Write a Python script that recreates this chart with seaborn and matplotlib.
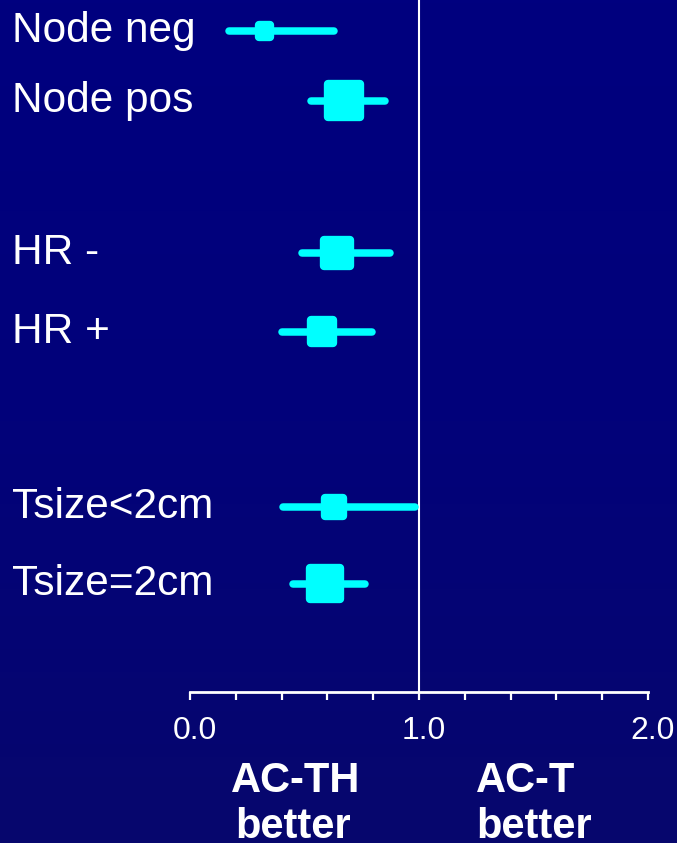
import numpy as np
import pandas as pd
import matplotlib
matplotlib.use("Agg")
import matplotlib.pyplot as plt
import matplotlib.transforms as mtransforms
from matplotlib.colors import LinearSegmentedColormap
import seaborn as sns

# Subgroup hazard ratios (AC-TH vs AC-T) with 95% confidence limits
subgroups = ["Node neg", "Node pos", "HR -", "HR +", "Tsize<2cm", "Tsize=2cm"]
hazard_ratio = [0.326, 0.673, 0.643, 0.577, 0.628, 0.590]
ci_low = [0.172, 0.528, 0.488, 0.402, 0.406, 0.451]
ci_high = [0.629, 0.850, 0.875, 0.796, 0.983, 0.763]
# relative weight of each subgroup, shown as box size
weight = [20, 41, 34, 31, 26, 39]

row_pos = [0.0, 1.0, 3.18, 4.30, 6.80, 7.90]
tick_values = [0.0, 0.2, 0.4, 0.6, 0.8, 1.0, 1.2, 1.4, 1.6, 1.8, 2.0]
tick_labels = ["0.0", "", "", "", "", "1.0", "", "", "", "", "2.0"]

df = pd.DataFrame({"subgroup": subgroups, "hr": hazard_ratio, "lo": ci_low,
                   "hi": ci_high, "w": weight, "row": row_pos})

sns.set_theme(style="white")
plt.rcParams["font.family"] = ["Liberation Sans", "DejaVu Sans"]

W, H, DPI = 677, 843, 100
fig = plt.figure(figsize=(W / DPI, H / DPI), dpi=DPI)
fig.patch.set_facecolor("#000080")

# navy background with a soft vertical shade
bg = fig.add_axes([0, 0, 1, 1], zorder=-10)
cmap = LinearSegmentedColormap.from_list("navy", ["#00007f", "#02027a", "#07076d"])
bg.imshow(np.linspace(0, 1, 256)[:, None], aspect="auto", cmap=cmap,
          extent=[0, 1, 0, 1], origin="upper")
bg.set_axis_off()

px_unit = 70.0
top_px, axis_px = 30.7, 692.0
ax = fig.add_axes([190 / W, 1 - axis_px / H, 458 / W, axis_px / H])
ax.set_facecolor("none")
ax.set_xlim(0, 2)
ax.set_ylim((axis_px - top_px) / px_unit, -top_px / px_unit)

# reference line of no effect
ax.axvline(1.0, color="white", lw=1.5, zorder=1)

# confidence intervals
ax.hlines(df["row"], df["lo"], df["hi"], color="#00ffff", lw=5.4,
          capstyle="round", zorder=2)

# weighted point estimates as rounded squares
edge_pt = 6.0
sizes = {w: max(w * 0.72 - edge_pt, 1) ** 2 for w in df["w"]}
sns.scatterplot(data=df, x="hr", y="row", size="w", sizes=sizes, marker="s",
                color="#00ffff", edgecolor="#00ffff", linewidth=edge_pt,
                legend=False, ax=ax, zorder=3, joinstyle="round")

# axis styling
for side in ["top", "left", "right"]:
    ax.spines[side].set_visible(False)
ax.spines["bottom"].set_color("white")
ax.spines["bottom"].set_linewidth(2.0)
ax.set_yticks([])
ax.set_xticks(tick_values, tick_labels)
ax.tick_params(axis="x", colors="white", direction="out", length=6,
               width=1.6, labelsize=23, pad=11, bottom=True)
nudge = mtransforms.ScaledTranslation(5 / DPI, 0, fig.dpi_scale_trans)
for lbl in ax.get_xticklabels():
    lbl.set_transform(lbl.get_transform() + nudge)
ax.set_xlabel("")
ax.set_ylabel("")

# subgroup labels on the left
trans = mtransforms.blended_transform_factory(fig.transFigure, ax.transData)
for name, r in zip(df["subgroup"], df["row"]):
    ax.text(12 / W, r + 11 / px_unit, name, transform=trans, color="white",
            fontsize=30.5, ha="left", va="baseline", clip_on=False)

# direction captions below the axis
for x_px, word in [(296, "AC-TH"), (526, "AC-T")]:
    fig.text(x_px / W, 1 - 792 / H, word, color="white", fontsize=30,
             fontweight="bold", ha="center", va="baseline")
for x_px in [293, 534]:
    fig.text(x_px / W, 1 - 838 / H, "better", color="white", fontsize=30,
             fontweight="bold", ha="center", va="baseline")

fig.savefig("out.png", dpi=DPI, facecolor=fig.get_facecolor())
